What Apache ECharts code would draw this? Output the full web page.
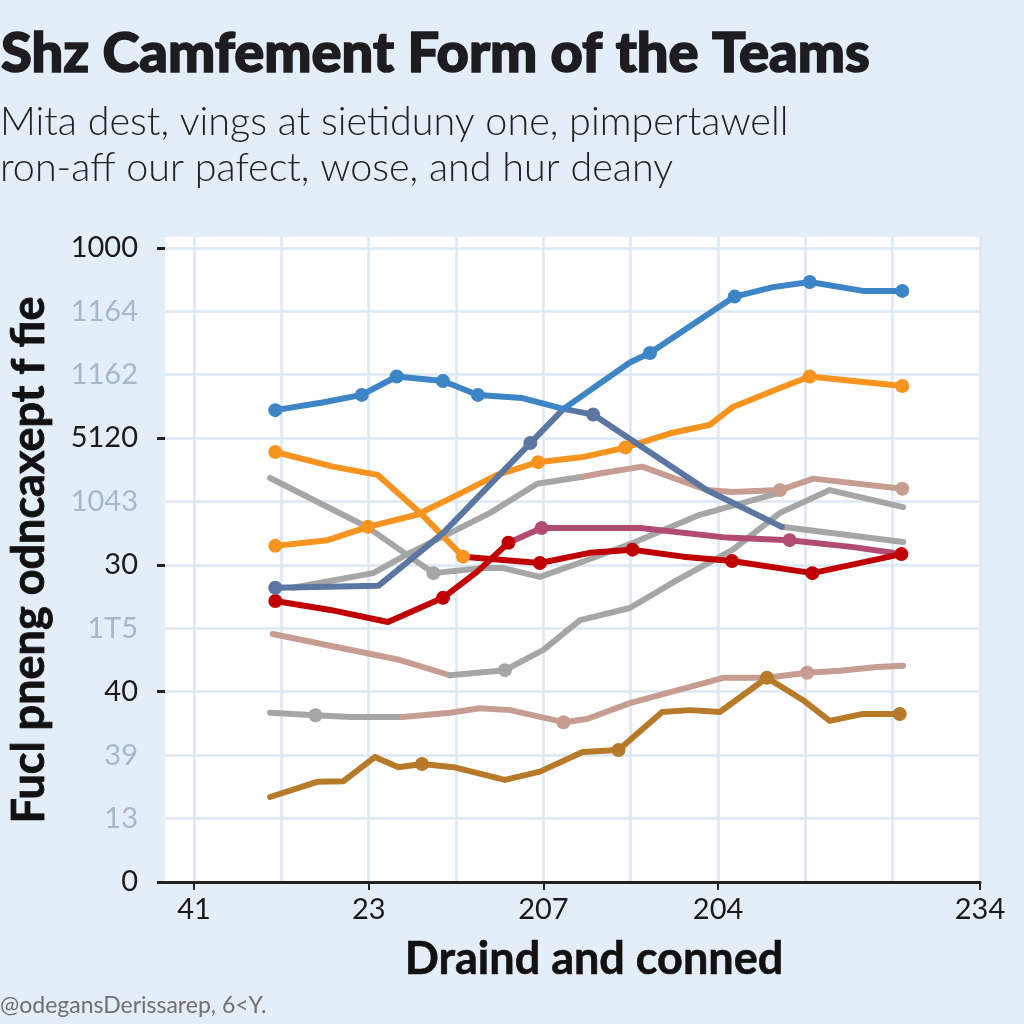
<!DOCTYPE html>
<html><head><meta charset="utf-8">
<script src="https://cdn.jsdelivr.net/npm/echarts@6/dist/echarts.min.js"></script>
<style>html,body{margin:0;padding:0;background:#e3eef9;} #c{width:1024px;height:1024px;}</style>
</head><body><div id="c"></div>
<script>
// ---- tick labels ----
const xTickValues = [0, 2, 4, 6, 9];
const xTickLabels = ['41', '23', '207', '204', '234'];
const yTickLabels = ['0', '13', '39', '40', '1T5', '30', '1043', '5120', '1162', '1164', '1000'];
const yStrongTicks = [0, 3, 5, 7, 10];

// ---- series values [x, y] in axis units ----
const blueLine = [[0.93,7.44],[1.47,7.56],[1.92,7.68],[2.32,7.97],[2.85,7.90],[3.25,7.68],[3.76,7.63],[4.23,7.46],[4.99,8.19],[5.22,8.34],[6.19,9.23],[6.63,9.38],[7.05,9.46],[7.66,9.32],[8.11,9.32]];
const blueMarks = [0,2,3,4,5,9,10,12,14];
const slateLine = [[0.93,4.64],[2.11,4.67],[2.85,5.50],[3.85,6.92],[4.23,7.46],[4.57,7.37],[5.87,6.18],[6.73,5.60]];
const slateMarks = [0,3,5];
const grayTail = [[6.73,5.60],[8.12,5.36]];
const orangeA = [[0.93,6.78],[1.59,6.55],[2.10,6.42],[2.59,5.82],[3.08,5.13]];
const orangeAMarks = [0,4];
const redB = [[3.08,5.13],[3.96,5.03],[4.53,5.19],[5.02,5.24],[5.60,5.13],[6.16,5.06],[7.08,4.87],[8.10,5.17]];
const redBMarks = [1,3,5,6,7];
const orangeB = [[0.93,5.30],[1.53,5.39],[1.99,5.60],[2.55,5.79],[3.01,6.10],[3.47,6.42],[3.94,6.62],[4.45,6.70],[4.94,6.85],[5.47,7.08],[5.91,7.21],[6.17,7.49],[6.71,7.79],[7.05,7.97],[8.11,7.82]];
const orangeBMarks = [0,2,6,8,13,14];
const redA = [[0.93,4.43],[1.56,4.29],[2.22,4.10],[2.85,4.48],[3.24,4.89],[3.60,5.35]];
const redAMarks = [0,3,5];
const magentaLine = [[3.60,5.35],[3.98,5.58],[5.11,5.58],[6.10,5.43],[6.82,5.39],[7.55,5.28],[8.00,5.19]];
const magentaMarks = [1,4];
const grayA = [[0.87,6.37],[1.98,5.60],[2.74,4.87],[3.31,4.95],[3.54,4.95],[3.96,4.81],[4.45,5.05],[5.03,5.35],[5.79,5.79],[6.71,6.14]];
const grayAMarks = [2];
const grayB = [[1.13,4.64],[2.05,4.87],[2.47,5.19],[2.93,5.50],[3.39,5.82],[3.93,6.28],[4.45,6.39]];
const tanB = [[4.45,6.39],[4.68,6.45],[5.13,6.55],[5.87,6.18],[6.17,6.15],[6.71,6.18],[7.09,6.36],[8.11,6.20]];
const tanBMarks = [5,7];
const tanC = [[0.90,3.91],[2.36,3.50],[2.93,3.26]];
const grayC = [[2.93,3.26],[3.56,3.34],[4.00,3.66],[4.42,4.13],[4.99,4.32],[5.53,4.76],[6.17,5.24],[6.71,5.82],[7.28,6.18],[8.12,5.91]];
const grayCMarks = [1];
const grayD = [[0.87,2.67],[1.39,2.63],[1.79,2.60],[2.39,2.60]];
const grayDMarks = [1];
const tanD = [[2.39,2.60],[2.93,2.67],[3.27,2.74],[3.62,2.71],[4.23,2.52],[4.50,2.57],[4.99,2.82],[6.06,3.22],[6.56,3.22],[7.02,3.30],[7.40,3.33],[7.82,3.39],[8.12,3.41]];
const tanDMarks = [4,9];
const goldLine = [[0.87,1.34],[1.41,1.58],[1.71,1.59],[2.07,1.97],[2.34,1.81],[2.61,1.86],[2.97,1.81],[3.56,1.61],[3.96,1.74],[4.45,2.05],[4.86,2.08],[5.36,2.68],[5.68,2.71],[6.02,2.68],[6.56,3.22],[6.97,2.87],[7.28,2.54],[7.66,2.65],[8.08,2.65]];
const goldMarks = [5,10,14,18];

// ---- styles ----
const C = {
  blue:'#3d85c6', slate:'#5b76a0', orange:'#f7941f', red:'#c00000', magenta:'#b24b72',
  gray:'#a6a6a6', tan:'#c79d91', gold:'#b67a29'
};
const GRID = '#dce8f5';

function line(name, data, marks, color) {
  return {
    type:'line', name, data, xAxisIndex:0, yAxisIndex:0,
    symbol:'circle', showSymbol:true, showAllSymbol:true,
    symbolSize:(v, p) => marks.indexOf(p.dataIndex) >= 0 ? 14 : 0,
    lineStyle:{color, width:6, cap:'round', join:'round'},
    itemStyle:{color}, emphasis:{disabled:true}, silent:true
  };
}

const series = [
  line('Gray D', grayD, grayDMarks, C.gray),
  line('Tan D', tanD, tanDMarks, C.tan),
  line('Tan C', tanC, [], C.tan),
  line('Gray C', grayC, grayCMarks, C.gray),
  line('Gray B', grayB, [], C.gray),
  line('Tan B', tanB, tanBMarks, C.tan),
  line('Gray A', grayA, grayAMarks, C.gray),
  line('Gray tail', grayTail, [], C.gray),
  line('Gold', goldLine, goldMarks, C.gold),
  line('Magenta', magentaLine, magentaMarks, C.magenta),
  line('Orange B', orangeB, orangeBMarks, C.orange),
  line('Orange A', orangeA, orangeAMarks, C.orange),
  line('Red A', redA, redAMarks, C.red),
  line('Red B', redB, redBMarks, C.red),
  line('Slate', slateLine, slateMarks, C.slate),
  line('Blue', blueLine, blueMarks, C.blue)
];

function isInt(v){ return Math.abs(v - Math.round(v)) < 1e-6; }

const chart = echarts.init(document.getElementById('c'), null, {renderer:'canvas'});
chart.setOption({
  animation:false,
  backgroundColor:'transparent',
  title:[
    {text:'Shz Camfement Form of the Teams', left:1, top:26, padding:0,
     textStyle:{fontSize:56, fontWeight:900, fontFamily:'Lato', color:'#1c1c21',
       textBorderColor:'#1c1c21', textBorderWidth:1.6}},
    {text:'Mita dest, vings at sietiduny one, pimpertawell\nron-aff our pafect, wose, and hur deany', left:0, top:99, padding:0,
     textStyle:{fontSize:39.5, fontWeight:300, fontFamily:'Lato', color:'#222', lineHeight:46}},
    {text:'Draind and conned', left:594, top:937, textAlign:'center', padding:0,
     textStyle:{fontSize:45, fontWeight:'bold', fontFamily:'Lato', color:'#111',
       textBorderColor:'#111', textBorderWidth:0.6}},
    {text:'@odegansDerissarep, 6<Y.', left:0, top:994, padding:0,
     textStyle:{fontSize:23, fontWeight:'normal', fontFamily:'Lato', color:'#707070'}}
  ],
  graphic:[
    {type:'text', x:29, y:560, rotation:Math.PI/2,
     style:{text:'Fucl pneng odncaxept f fie', font:'bold 45px Lato', fill:'#111', stroke:'#111', lineWidth:0.8,
       align:'center', verticalAlign:'middle'}}
  ],
  grid:{left:165, right:44, top:237, bottom:142, show:true, backgroundColor:'#ffffff', borderWidth:0, containLabel:false},
  xAxis:[
    {type:'value', min:-1/3, max:9, interval:1/3,
     axisLine:{show:true, onZero:false, lineStyle:{color:'#222', width:3}},
     axisTick:{show:false},
     axisLabel:{margin:13, fontSize:29, fontFamily:'Lato', color:'#1a1a1a',
       formatter:(v)=>{ if(!isInt(v)) return ''; const i = xTickValues.indexOf(Math.round(v)); return i>=0 ? xTickLabels[i] : ''; }},
     splitLine:{show:true, lineStyle:{color:['rgba(0,0,0,0)', GRID, 'rgba(0,0,0,0)'], width:2.5}}},
    {type:'value', min:-1/3, max:9, position:'bottom',
     axisLine:{show:false, onZero:false}, axisLabel:{show:false}, splitLine:{show:false},
     axisTick:{show:true, customValues:xTickValues, length:8, lineStyle:{color:'#222', width:2}}}
  ],
  yAxis:[
    {type:'value', min:0, max:10.17, interval:1,
     axisLine:{show:false, onZero:false}, axisTick:{show:false},
     axisLabel:{margin:27, fontSize:29, fontFamily:'Lato', padding:[6,0,0,0],
       color:(v)=> yStrongTicks.indexOf(Math.round(+v)) >= 0 ? '#1a1a1a' : '#a8b8cb',
       formatter:(v)=> isInt(v) ? (yTickLabels[Math.round(v)] || '') : ''},
     splitLine:{show:true, showMaxLine:false, lineStyle:{color:GRID, width:2.5}}},
    {type:'value', min:0, max:10.17, position:'left',
     axisLine:{show:false, onZero:false}, axisLabel:{show:false}, splitLine:{show:false},
     axisTick:{show:true, customValues:yStrongTicks, length:8, lineStyle:{color:'#222', width:3}}}
  ],
  series
});
</script>
</body></html>
